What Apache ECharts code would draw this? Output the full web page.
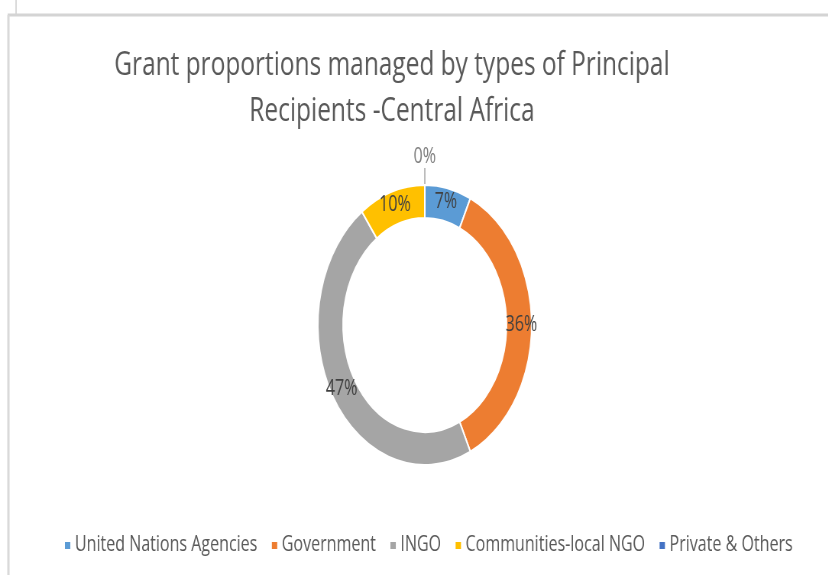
<!DOCTYPE html>
<html>
<head>
<meta charset="utf-8">
<script src="https://cdn.jsdelivr.net/npm/echarts@6/dist/echarts.min.js"></script>
<style>
html,body{margin:0;padding:0;background:#fff;overflow:hidden;}
#wrap{width:828px;height:575px;overflow:hidden;position:relative;}
#chart{width:1084px;height:575px;transform:scaleX(0.764);transform-origin:0 0;}
</style>
</head>
<body>
<div id="wrap"><div id="chart"></div></div>
<script>
const titleLines = ['Grant proportions managed by types of Principal', 'Recipients -Central Africa'];
const categories = ['United Nations Agencies', 'Government', 'INGO', 'Communities-local NGO', 'Private & Others'];
const shares = [7, 36, 47, 10, 0];
const colors = ['#5B9BD5', '#ED7D31', '#A5A5A5', '#FFC000', '#4472C4'];

const chart = echarts.init(document.getElementById('chart'), null, {renderer: 'canvas'});
const data = categories.map((name, i) => {
  const d = {name: name, value: shares[i], itemStyle: {color: colors[i]}};
  if (shares[i] === 0) {
    d.label = {position: 'outside', color: '#7f7f7f'};
    d.labelLine = {show: true, length: 15, length2: 0, lineStyle: {color: '#a6a6a6', width: 1.5}};
  }
  return d;
});

chart.setOption({
  animation: false,
  backgroundColor: '#ffffff',
  title: {
    text: titleLines.join('\n'),
    left: 508,
    textAlign: 'center',
    top: 38,
    textStyle: {fontFamily: 'Open Sans', fontSize: 32, fontWeight: 'normal', color: '#595959', lineHeight: 46}
  },
  legend: {
    data: categories,
    left: 78,
    top: 530,
    icon: 'rect',
    itemWidth: 9,
    itemHeight: 9,
    itemGap: 17,
    textStyle: {fontFamily: 'Open Sans', fontSize: 21, color: '#595959'}
  },
  graphic: [
    {type: 'line', shape: {x1: 21, y1: 0, x2: 21, y2: 14}, style: {stroke: '#d9d9d9', lineWidth: 2}},
    {type: 'line', shape: {x1: 10, y1: 15, x2: 1084, y2: 15}, style: {stroke: '#d4d4d4', lineWidth: 3}},
    {type: 'line', shape: {x1: 11, y1: 15, x2: 11, y2: 575}, style: {stroke: '#d9d9d9', lineWidth: 3}}
  ],
  series: [{
    type: 'pie',
    center: [556, 325],
    radius: [107, 140],
    startAngle: 90,
    clockwise: true,
    avoidLabelOverlap: false,
    itemStyle: {borderColor: '#ffffff', borderWidth: 2},
    label: {
      show: true,
      position: 'inside',
      formatter: '{c}%',
      fontFamily: 'Open Sans',
      fontSize: 21,
      color: '#404040'
    },
    labelLine: {show: false},
    labelLayout: function (p) {
      if (p.dataIndex === 4 && p.labelLinePoints) {
        const pts = p.labelLinePoints;
        const top = pts[1];
        return {x: top[0], y: top[1] - 2, align: 'center', verticalAlign: 'bottom'};
      }
    },
    emphasis: {disabled: true},
    data: data
  }]
});
</script>
</body>
</html>
